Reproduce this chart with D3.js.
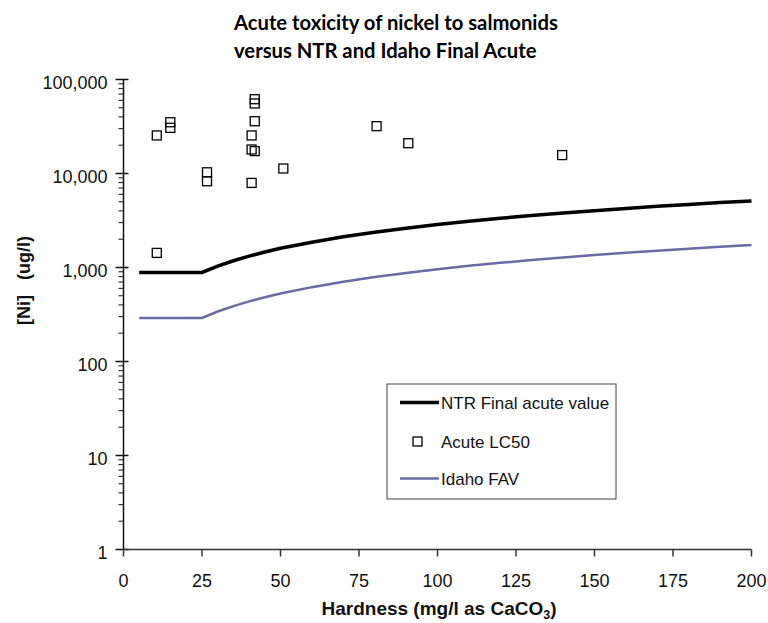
<!DOCTYPE html>
<html>
<head>
<meta charset="utf-8">
<script src="https://cdn.jsdelivr.net/npm/d3@7"></script>
<style>
  body { margin: 0; background: #fff; }
  svg { display: block; }
  text { font-family: "Liberation Sans", Arial, sans-serif; }
</style>
</head>
<body>
<svg id="chart"></svg>
<script>
// Lines: hardness (mg/l) vs criterion (ug/l)
const hardness = [5, 10, 15, 20, 25, 30, 35, 40, 45, 50, 60, 70, 80, 90, 100, 110, 120, 130, 140, 150, 160, 170, 180, 190, 200];
const ntrFav = [885, 885, 885, 885, 885, 1035, 1180, 1320, 1460, 1600, 1860, 2120, 2370, 2620, 2860, 3100, 3340, 3570, 3800, 4020, 4250, 4470, 4690, 4900, 5110];
const idahoFav = [291, 291, 291, 291, 291, 340, 388, 436, 482, 528, 618, 706, 792, 876, 959, 1041, 1121, 1201, 1280, 1357, 1434, 1510, 1585, 1659, 1733];

// Acute LC50 points
const lc50Hardness = [10.6, 10.6, 14.9, 14.9, 26.6, 26.6, 40.8, 40.8, 40.8, 41.8, 41.8, 41.8, 41.8, 50.9, 80.6, 90.7, 139.7];
const lc50Values = [25400, 1430, 35100, 30600, 10300, 8270, 25400, 18000, 7940, 61700, 55600, 36000, 17300, 11300, 31900, 21000, 15700];

// Ticks
const xTicks = [0, 25, 50, 75, 100, 125, 150, 175, 200];
const yTicks = [1, 10, 100, 1000, 10000, 100000];

const legendLabels = ["NTR Final acute value", "Acute LC50", "Idaho FAV"];

const width = 768;
const height = 623;
const plot = { left: 123.5, right: 751.5, top: 79.5, bottom: 549.5 };
const idahoColor = "#6a6aa6";

const svg = d3.select("#chart").attr("width", width).attr("height", height);

const x = d3.scaleLinear().domain([0, 200]).range([plot.left, plot.right]);
const y = d3.scaleLog().domain([1, 100000]).range([plot.bottom, plot.top]);

// Title (two lines, left aligned like the source)
const title = svg.append("g").attr("font-weight", "bold");
const titleLines = ["Acute toxicity of nickel to salmonids", "versus NTR and Idaho Final Acute"];
const t1 = title.append("text")
	.attr("x", 234).attr("y", 30)
	.style("font-family", "Lato, 'Open Sans', sans-serif")
	.attr("font-size", 20)
	.text(titleLines[0]);
// fit title width to the source (~324px)
const fs = 20 * 324 / t1.node().getComputedTextLength();
t1.attr("font-size", fs);
title.append("text")
	.attr("x", 234).attr("y", 58)
	.style("font-family", "Lato, 'Open Sans', sans-serif")
	.attr("font-size", fs)
	.text(titleLines[1]);

// Y axis: majors with labels, minors on the left
const minorTicks = [];
for (let d = 1; d < 100000; d *= 10) {
	for (let k = 2; k <= 9; k++) minorTicks.push(d * k);
}

const yAxis = svg.append("g").attr("class", "axis y");
yAxis.append("line")
	.attr("x1", plot.left).attr("x2", plot.left)
	.attr("y1", plot.top).attr("y2", plot.bottom)
	.attr("stroke", "#111").attr("stroke-width", 1.5);
yAxis.selectAll(".minor")
	.data(minorTicks)
	.enter()
	.append("line")
	.attr("class", "minor")
	.attr("x1", plot.left - 5).attr("x2", plot.left)
	.attr("y1", (d) => y(d)).attr("y2", (d) => y(d))
	.attr("stroke", "#111").attr("stroke-width", 1);
yAxis.selectAll(".major")
	.data(yTicks)
	.enter()
	.append("line")
	.attr("class", "major")
	.attr("x1", plot.left - 8).attr("x2", plot.left + 5)
	.attr("y1", (d) => y(d)).attr("y2", (d) => y(d))
	.attr("stroke", "#111").attr("stroke-width", 1.5);
yAxis.selectAll("text")
	.data(yTicks)
	.enter()
	.append("text")
	.attr("x", 107.5)
	.attr("y", (d) => y(d) + 9.5)
	.attr("text-anchor", "end")
	.attr("font-size", 18)
	.attr("fill", "#111")
	.text(d3.format(","));

// X axis
const xAxis = svg.append("g").attr("class", "axis x");
xAxis.append("line")
	.attr("x1", plot.left).attr("x2", plot.right)
	.attr("y1", plot.bottom).attr("y2", plot.bottom)
	.attr("stroke", "#333").attr("stroke-width", 1.5);
xAxis.selectAll("line.tick")
	.data(xTicks)
	.enter()
	.append("line")
	.attr("class", "tick")
	.attr("x1", (d) => x(d)).attr("x2", (d) => x(d))
	.attr("y1", plot.bottom).attr("y2", plot.bottom + 7)
	.attr("stroke", "#333").attr("stroke-width", 1.5);
xAxis.selectAll("text")
	.data(xTicks)
	.enter()
	.append("text")
	.attr("x", (d) => x(d))
	.attr("y", 586.5)
	.attr("text-anchor", "middle")
	.attr("font-size", 18)
	.attr("fill", "#111")
	.text((d) => d);

// Axis titles
const xLabel = svg.append("text")
	.attr("x", 439).attr("y", 615)
	.attr("text-anchor", "middle")
	.attr("font-size", 19)
	.attr("font-weight", "bold")
	.attr("fill", "#111");
xLabel.append("tspan").text("Hardness (mg/l as CaCO");
xLabel.append("tspan").attr("font-size", 12.5).attr("dy", 4).text("3");
xLabel.append("tspan").attr("dy", -4).text(")");

svg.append("text")
	.attr("transform", "translate(30, 325) rotate(-90)")
	.attr("font-size", 18)
	.attr("font-weight", "bold")
	.attr("fill", "#111")
	.style("white-space", "pre")
	.text("[Ni]   (ug/l)");

// Lines
const lineGen = (vals) => d3.line()
	.x((d, i) => x(hardness[i]))
	.y((d) => y(d))(vals);

svg.append("path")
	.attr("d", lineGen(idahoFav))
	.attr("fill", "none")
	.attr("stroke", idahoColor)
	.attr("stroke-width", 2.5);

svg.append("path")
	.attr("d", lineGen(ntrFav))
	.attr("fill", "none")
	.attr("stroke", "#000")
	.attr("stroke-width", 3.5);

// LC50 squares
svg.append("g")
	.selectAll("rect")
	.data(lc50Values)
	.enter()
	.append("rect")
	.attr("x", (d, i) => x(lc50Hardness[i]) - 4.5)
	.attr("y", (d) => y(d) - 4.5)
	.attr("width", 9)
	.attr("height", 9)
	.attr("fill", "none")
	.attr("stroke", "#000")
	.attr("stroke-width", 1.3);

// Legend
const legend = svg.append("g").attr("transform", "translate(387, 384)");
legend.append("rect")
	.attr("width", 229).attr("height", 115)
	.attr("fill", "#fff")
	.attr("stroke", "#444").attr("stroke-width", 1);
const rowY = [18.5, 57.5, 94.5];
legend.append("line")
	.attr("x1", 13).attr("x2", 52).attr("y1", rowY[0]).attr("y2", rowY[0])
	.attr("stroke", "#000").attr("stroke-width", 3.5);
legend.append("rect")
	.attr("x", 26).attr("y", rowY[1] - 4.5).attr("width", 9).attr("height", 9)
	.attr("fill", "none").attr("stroke", "#000").attr("stroke-width", 1.3);
legend.append("line")
	.attr("x1", 13).attr("x2", 52).attr("y1", rowY[2]).attr("y2", rowY[2])
	.attr("stroke", idahoColor).attr("stroke-width", 2.5);
legend.selectAll("text")
	.data(legendLabels)
	.enter()
	.append("text")
	.attr("x", 54)
	.attr("y", (d, i) => rowY[i] + 6.5)
	.attr("font-size", 17)
	.attr("fill", "#111")
	.text((d) => d);
</script>
</body>
</html>
